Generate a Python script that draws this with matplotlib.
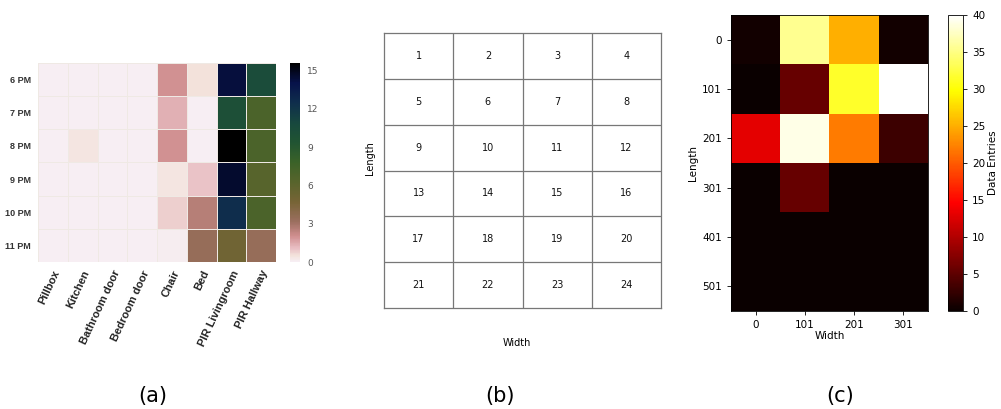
import numpy as np
import matplotlib.pyplot as plt
from matplotlib.colors import Normalize, LinearSegmentedColormap

# ---------------- data ----------------

# (a) sensor activations per hour
hours = ['6 PM', '7 PM', '8 PM', '9 PM', '10 PM', '11 PM']
sensors = ['Pillbox', 'Kitchen', 'Bathroom door', 'Bedroom door', 'Chair', 'Bed',
           'PIR Livingroom', 'PIR Hallway']
activity = np.array([
    [0.0, 0.0, 0.0, 0.0, 2.0, 0.5, 14.3, 10.3],
    [0.0, 0.0, 0.0, 0.0, 1.4, 0.0, 10.0, 6.9],
    [0.0, 0.4, 0.0, 0.0, 2.0, 0.0, 15.6, 6.9],
    [0.0, 0.0, 0.0, 0.0, 0.4, 1.0, 14.6, 6.3],
    [0.0, 0.0, 0.0, 0.0, 0.8, 2.6, 12.5, 6.9],
    [0.0, 0.0, 0.0, 0.0, 0.1, 3.4, 5.0, 3.4],
])
activity_ticks = [0, 3, 6, 9, 12, 15]

# (b) grid cell numbering
n_grid_rows = 6
n_grid_cols = 4

# (c) data entries per grid cell
width_labels = ['0', '101', '201', '301']
length_labels = ['0', '101', '201', '301', '401', '501']
entries = np.array([
    [0.5, 35.5, 25.0, 0.5],
    [0.0, 5.5, 31.5, 40.0],
    [13.0, 39.0, 22.0, 3.0],
    [0.0, 5.5, 0.0, 0.0],
    [0.0, 0.0, 0.0, 0.0],
    [0.0, 0.0, 0.0, 0.0],
])
entries_ticks = [0, 5, 10, 15, 20, 25, 30, 35, 40]

# pink -> brown -> olive -> green -> navy -> black
helix = LinearSegmentedColormap.from_list('helix', [
    (0.00, '#f7eef3'),
    (0.03, '#f3e3dc'),
    (0.07, '#e8bcc2'),
    (0.13, '#cf8e8e'),
    (0.20, '#9c6f60'),
    (0.30, '#776436'),
    (0.40, '#58642c'),
    (0.50, '#3b6228'),
    (0.60, '#215432'),
    (0.70, '#17483e'),
    (0.80, '#0f2e4c'),
    (0.90, '#07124a'),
    (1.00, '#000000'),
])

# ---------------- figure ----------------
W, H = 1001, 409
fig = plt.figure(figsize=(W / 100, H / 100), dpi=100)


def px_axes(x0, y0, x1, y1):
    # axes placed by pixel box (top-left origin)
    return fig.add_axes([x0 / W, 1 - y1 / H, (x1 - x0) / W, (y1 - y0) / H])


# ---- (a) heatmap ----
ax_a = px_axes(38, 63, 276, 262)
norm_a = Normalize(vmin=0, vmax=activity.max())
mesh = ax_a.pcolormesh(activity, cmap=helix, norm=norm_a,
                       edgecolors='#efe9e4', linewidth=0.6)
ax_a.set_xlim(0, len(sensors))
ax_a.set_ylim(len(hours), 0)
ax_a.set_xticks(np.arange(len(sensors)) + 0.5)
ax_a.set_xticklabels(sensors, rotation=65, ha='right', va='top',
                     rotation_mode='anchor', fontsize=8, fontweight='bold',
                     family='Liberation Sans', color='#222222')
ax_a.set_yticks(np.arange(len(hours)) + 0.5)
ax_a.set_yticklabels(hours, fontsize=6.5, fontweight='bold',
                     family='Liberation Sans', color='#333333')
ax_a.tick_params(axis='x', length=0, pad=5)
ax_a.tick_params(axis='y', length=0, pad=5)
for s in ax_a.spines.values():
    s.set_visible(False)

cax_a = px_axes(290, 63, 300, 262)
cb_a = fig.colorbar(mesh, cax=cax_a, ticks=activity_ticks)
cb_a.outline.set_visible(False)
cb_a.ax.tick_params(length=0, labelsize=6.5, labelcolor='#555555', pad=5)

# ---- (b) grid layout ----
ax_b = px_axes(384, 33, 661, 308)
ax_b.set_xlim(0, n_grid_cols)
ax_b.set_ylim(n_grid_rows, 0)
for i in range(1, n_grid_cols):
    ax_b.axvline(i, color='#777777', lw=0.9)
for j in range(1, n_grid_rows):
    ax_b.axhline(j, color='#777777', lw=0.9)
for r in range(n_grid_rows):
    for c in range(n_grid_cols):
        ax_b.text(c + 0.5, r + 0.5, str(r * n_grid_cols + c + 1),
                  ha='center', va='center', fontsize=7, color='#111111')
ax_b.set_xticks([])
ax_b.set_yticks([])
for s in ax_b.spines.values():
    s.set_color('#777777')
    s.set_linewidth(0.9)
fig.text(517 / W, 1 - 343 / H, 'Width', ha='center', va='center', fontsize=7)
fig.text(370 / W, 1 - 158 / H, 'Length', ha='center', va='center',
         rotation=90, fontsize=7)

# ---- (c) data entries heatmap ----
ax_c = px_axes(731, 15, 928, 311)
im = ax_c.imshow(entries, cmap='hot', vmin=0, vmax=40, aspect='auto',
                 interpolation='nearest')
ax_c.set_xticks(range(len(width_labels)))
ax_c.set_xticklabels(width_labels)
ax_c.set_yticks(range(len(length_labels)))
ax_c.set_yticklabels(length_labels)
ax_c.tick_params(labelsize=7.5, length=3, width=0.6)
ax_c.set_xlabel('Width', fontsize=7.5, labelpad=1)
ax_c.set_ylabel('Length', fontsize=7.5, labelpad=3)
for s in ax_c.spines.values():
    s.set_linewidth(0.6)

cax_c = px_axes(948, 15, 963, 311)
cb_c = fig.colorbar(im, cax=cax_c, ticks=entries_ticks)
cb_c.ax.tick_params(labelsize=7.5, length=3, width=0.6)
cb_c.outline.set_linewidth(0.6)
cb_c.set_label('Data Entries', fontsize=7.5, labelpad=2)

# ---- panel captions ----
for x, lab in [(153, '(a)'), (500, '(b)'), (840, '(c)')]:
    fig.text(x / W, 1 - 396 / H, lab, ha='center', va='center', fontsize=15)

fig.savefig('out.png', dpi=100)
